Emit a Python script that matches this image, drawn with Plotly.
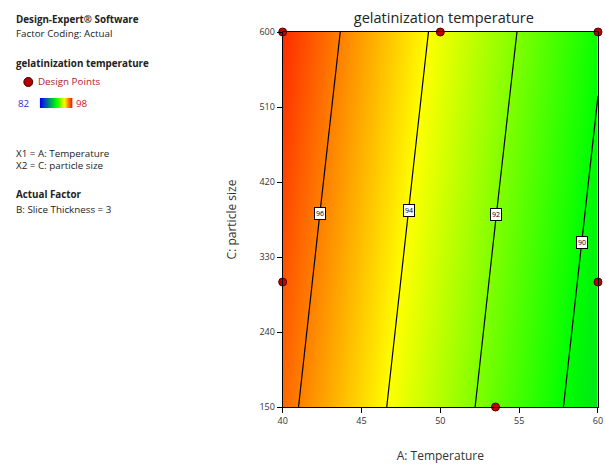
import numpy as np
import plotly.graph_objects as go

# ---- data ----
temperature = [40, 45, 50, 55, 60]
particle_size = [150, 375, 600]
# predicted gelatinization temperature, rows = particle size, cols = temperature
gel_temp = [
    [96.36, 94.57, 92.79, 91.00, 89.22],
    [96.83, 95.04, 93.26, 91.47, 89.69],
    [97.30, 95.52, 93.73, 91.95, 90.16],
]
design_T = [40, 50, 60, 40, 60, 53.5]
design_S = [600, 600, 600, 300, 300, 150]
contour_levels = [96, 94, 92, 90]
label_S = [382, 386, 381, 347]
x_ticks = [40, 45, 50, 55, 60]
y_ticks = [150, 240, 330, 420, 510, 600]
scale_min, scale_max = 82, 98

colorscale = [[0.0, "#0000ff"], [0.5, "#00ff00"], [0.75, "#ffff00"], [1.0, "#ff0000"]]

W, H = 606, 464
ml, mr, mt, mb = 0, 8, 32, 57
pw, ph = W - ml - mr, H - mt - mb
x0px = 280

def px_x(px):
    return (px - ml) / pw

def px_y(py):
    return (H - mb - py) / ph

fig = go.Figure()

fig.add_trace(go.Heatmap(
    x=temperature, y=particle_size, z=gel_temp, zsmooth="best",
    colorscale=colorscale, zmin=scale_min, zmax=scale_max, showscale=False,
    hoverinfo="skip"))

fig.add_trace(go.Contour(
    x=temperature, y=particle_size, z=gel_temp,
    contours=dict(coloring="none", start=90, end=96, size=2, showlabels=False),
    line=dict(color="black", width=1.2), showscale=False, hoverinfo="skip"))

fig.add_trace(go.Scatter(
    x=design_T, y=design_S, mode="markers", cliponaxis=False,
    marker=dict(size=8, color="#c00000", line=dict(color="#5a0000", width=1)),
    showlegend=False, hoverinfo="skip"))

# contour labels positioned from the data
Z = np.array(gel_temp)
S = np.array(particle_size, dtype=float)
T = np.array(temperature, dtype=float)
for lvl, s in zip(contour_levels, label_S):
    row = np.array([np.interp(s, S, Z[:, j]) for j in range(len(T))])
    t = np.interp(lvl, row[::-1], T[::-1])
    fig.add_annotation(x=t, y=s, xref="x", yref="y", text=str(lvl), showarrow=False,
                       font=dict(size=7, color="black", family="Open Sans"),
                       bgcolor="white", bordercolor="black", borderwidth=1, borderpad=1)

# color bar legend on a small axis
fig.add_trace(go.Heatmap(
    z=[list(np.linspace(scale_min, scale_max, 60))], colorscale=colorscale,
    zmin=scale_min, zmax=scale_max, showscale=False, xaxis="x2", yaxis="y2",
    hoverinfo="skip", zsmooth="best"))

fig.update_layout(
    width=W, height=H, margin=dict(l=ml, r=mr, t=mt, b=mb),
    paper_bgcolor="white", plot_bgcolor="white",
    font=dict(family="Open Sans", color="#333333"),
    showlegend=False,
    title=dict(text="gelatinization temperature", x=px_x(438), xanchor="center",
               y=1 - 18 / H, yanchor="middle",
               font=dict(size=14.5, color="#222222", family="Open Sans")),
    xaxis=dict(domain=[px_x(x0px), 1], range=[40, 60], tickvals=x_ticks,
               ticks="outside", ticklen=5, tickcolor="black", showline=True,
               linecolor="black", linewidth=1, mirror=True, showgrid=False, zeroline=False,
               tickfont=dict(size=9, color="#333333"),
               title=dict(text="A: Temperature", font=dict(size=12, color="#333333"), standoff=25)),
    yaxis=dict(domain=[0, 1], range=[150, 600], tickvals=y_ticks,
               ticks="outside", ticklen=5, tickcolor="black", showline=True,
               linecolor="black", linewidth=1, mirror=True, showgrid=False, zeroline=False,
               tickfont=dict(size=9, color="#333333"),
               title=dict(text="C: particle size", font=dict(size=12, color="#333333"), standoff=20)),
    xaxis2=dict(domain=[px_x(35), px_x(68)], visible=False, anchor="y2"),
    yaxis2=dict(domain=[px_y(108), px_y(98)], visible=False, anchor="x2"),
)

def note(px, py, text, size=9.8, color="#222222", bold=False):
    if bold:
        text = "<b>" + text + "</b>"
    fig.add_annotation(x=px_x(px), y=px_y(py), xref="paper", yref="paper", text=text,
                       showarrow=False, xanchor="left", yanchor="middle",
                       font=dict(size=size, color=color, family="Open Sans"))

note(9, 20, "Design-Expert® Software", bold=True)
note(9, 33, "Factor Coding: Actual")
note(9, 63, "gelatinization temperature", bold=True)
note(31, 82, "Design Points", color="#b02030")
note(11, 103, "82", color="#3030c0")
note(70, 103, "98", color="#d02020")
note(9, 153, "X1 = A: Temperature")
note(9, 166, "X2 = C: particle size")
note(9, 194, "Actual Factor", bold=True)
note(9, 209, "B: Slice Thickness = 3")

fig.add_shape(type="circle", xref="paper", yref="paper",
              x0=px_x(19), x1=px_x(28), y0=px_y(86.5), y1=px_y(77.5),
              fillcolor="#b00000", line=dict(color="#400000", width=1))

fig.write_html("out.html", config={"displayModeBar": False},
               post_script="document.body.style.margin='0';document.body.style.overflow='hidden';")
